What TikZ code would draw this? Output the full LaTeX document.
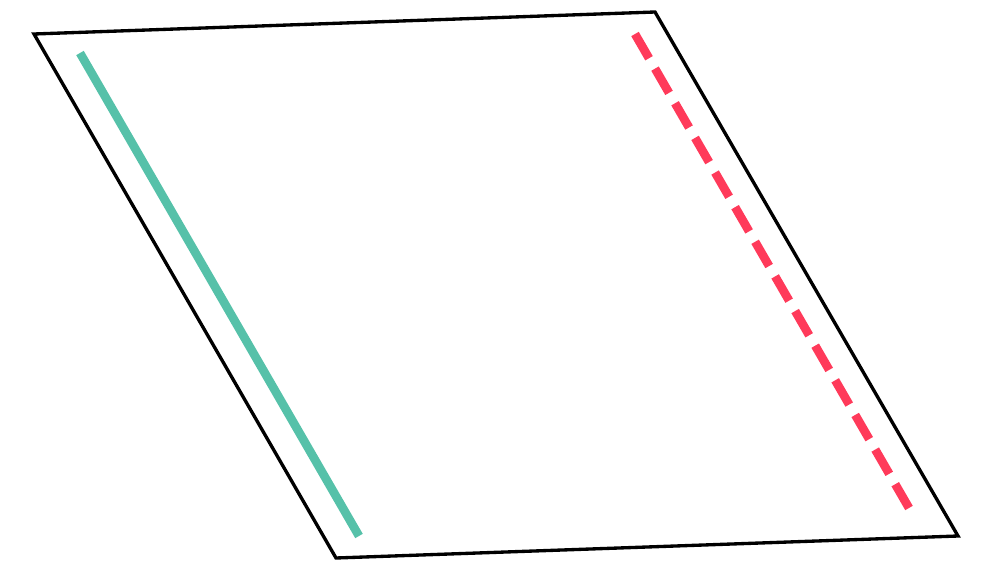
\documentclass[tikz,border=0pt]{standalone}
\usepackage{xcolor}
\definecolor{edgegreen}{HTML}{56C1A9}
\definecolor{edgered}{HTML}{FF3A5A}

\begin{document}
\begin{tikzpicture}[x=0.75pt, y=-0.75pt,
    sheet/.style={draw=black, line width=2.5pt, line join=miter},
    solid edge/.style={draw=edgegreen, line width=6.5pt},
    dashed edge/.style={draw=edgered, line width=6.5pt, dash pattern=on 21pt off 9pt},
]
    \useasboundingbox (0,0) rectangle (985,581);

    % ── Parallelogram ──
    \coordinate (tl) at (34,34);
    \coordinate (tr) at (655,12);
    \coordinate (br) at (958,536);
    \coordinate (bl) at (336,558);
    \draw[sheet] (tl) -- (tr) -- (br) -- (bl) -- cycle;

    % ── Marked edges ──
    \coordinate (gstart) at (80,53);
    \coordinate (gend) at (359,536);
    \draw[solid edge] (gstart) -- (gend);

    \coordinate (rstart) at (635,34);
    \coordinate (rend) at (909,508);
    \draw[dashed edge] (rstart) -- (rend);

\end{tikzpicture}
\end{document}
